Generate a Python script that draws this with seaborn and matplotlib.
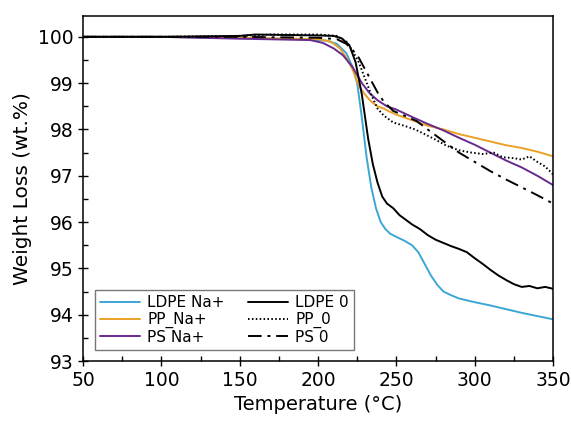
import numpy as np
import pandas as pd
import seaborn as sns
import matplotlib.pyplot as plt
from matplotlib.ticker import MultipleLocator

sns.set_style('ticks', {'text.color': 'black', 'axes.labelcolor': 'black', 'xtick.color': 'black',
                        'ytick.color': 'black', 'axes.edgecolor': 'black'})
plt.rcParams['font.family'] = ['DejaVu Sans']

# LDPE Na+
t_ldpe_na = [50, 100, 150, 190, 205, 212, 218, 222, 225, 228, 231, 234, 237, 240, 243, 246, 250, 255,
             260, 264, 268, 272, 276, 280, 285, 290, 300, 310, 320, 330, 340, 350]
w_ldpe_na = [100.0, 100.0, 99.97, 99.95, 99.92, 99.85, 99.65, 99.35, 99.0, 98.25, 97.4, 96.75, 96.3, 96.0,
             95.85, 95.75, 95.68, 95.6, 95.5, 95.35, 95.1, 94.85, 94.65, 94.5, 94.42, 94.35, 94.27, 94.2,
             94.12, 94.04, 93.97, 93.9]
# LDPE 0
t_ldpe_0 = [50, 100, 150, 160, 200, 210, 215, 220, 224, 228, 232, 235, 238, 241, 244, 248, 252, 256, 260,
            265, 270, 275, 280, 285, 290, 295, 300, 305, 310, 315, 320, 325, 330, 335, 340, 345, 350]
w_ldpe_0 = [100.0, 100.0, 100.02, 100.05, 100.03, 100.02, 99.97, 99.82, 99.45, 98.75, 97.8, 97.25, 96.85,
            96.55, 96.4, 96.3, 96.15, 96.05, 95.95, 95.85, 95.72, 95.62, 95.55, 95.48, 95.42, 95.35, 95.22,
            95.1, 94.97, 94.85, 94.75, 94.66, 94.6, 94.62, 94.57, 94.6, 94.56]
# PP Na+
t_pp_na = [50, 100, 150, 200, 208, 214, 218, 222, 226, 230, 234, 238, 242, 246, 250, 260, 270, 280, 290,
           300, 310, 320, 330, 340, 350]
w_pp_na = [100.0, 100.0, 99.98, 99.95, 99.9, 99.75, 99.55, 99.3, 98.95, 98.75, 98.6, 98.5, 98.45, 98.38,
           98.32, 98.2, 98.08, 98.0, 97.9, 97.82, 97.74, 97.66, 97.6, 97.52, 97.42]
# PP 0
t_pp_0 = [50, 100, 150, 170, 200, 212, 218, 222, 226, 230, 234, 238, 242, 248, 255, 262, 268, 275, 282,
          290, 298, 305, 312, 318, 325, 330, 335, 340, 345, 350]
w_pp_0 = [100.0, 100.0, 100.02, 100.05, 100.05, 100.02, 99.9, 99.7, 99.45, 99.1, 98.75, 98.45, 98.3,
          98.15, 98.08, 98.0, 97.9, 97.78, 97.65, 97.55, 97.5, 97.47, 97.5, 97.4, 97.38, 97.35, 97.42,
          97.3, 97.2, 97.03]
# PS Na+
t_ps_na = [50, 100, 150, 195, 203, 210, 216, 222, 228, 233, 238, 244, 250, 260, 270, 280, 290, 300, 310,
           320, 330, 340, 350]
w_ps_na = [100.0, 100.0, 99.96, 99.93, 99.87, 99.75, 99.6, 99.35, 99.0, 98.78, 98.63, 98.5, 98.43, 98.27,
           98.12, 97.98, 97.82, 97.67, 97.5, 97.33, 97.18, 97.0, 96.8]
# PS 0
t_ps_0 = [50, 100, 150, 200, 212, 218, 222, 226, 230, 234, 238, 242, 248, 255, 263, 270, 280, 290, 300,
          310, 320, 330, 340, 350]
w_ps_0 = [100.0, 100.0, 100.0, 99.98, 99.95, 99.85, 99.72, 99.55, 99.3, 99.05, 98.8, 98.6, 98.4, 98.3,
          98.18, 98.0, 97.75, 97.5, 97.3, 97.1, 96.92, 96.75, 96.58, 96.4]

series = [
    ('LDPE Na+', t_ldpe_na, w_ldpe_na, '#3ca6d4', None),
    ('PP_Na+', t_pp_na, w_pp_na, '#e9a126', None),
    ('PS Na+', t_ps_na, w_ps_na, '#672a8e', None),
    ('LDPE 0', t_ldpe_0, w_ldpe_0, 'black', None),
    ('PP_0', t_pp_0, w_pp_0, 'black', (0.8, 1.2)),
    ('PS 0', t_ps_0, w_ps_0, 'black', (7, 3, 1.5, 3)),
]

fig = plt.figure(figsize=(5.71, 4.21), dpi=100)
ax = fig.add_axes([0.1454, 0.1425, 0.8231, 0.8195])

for name, t, w, c, dash in series:
    df = pd.DataFrame({'T': t, 'W': w})
    line = sns.lineplot(data=df, x='T', y='W', color=c, linewidth=1.4, label=name, ax=ax).lines[-1]
    if dash is not None:
        line.set_dashes(dash)

ax.set_xlim(50, 350)
ax.set_ylim(93, 100.45)
ax.xaxis.set_major_locator(MultipleLocator(50))
ax.xaxis.set_minor_locator(MultipleLocator(25))
ax.yaxis.set_major_locator(MultipleLocator(1))
ax.yaxis.set_minor_locator(MultipleLocator(0.5))
ax.tick_params(which='major', direction='inout', length=7, labelsize=13.5, width=1)
ax.tick_params(which='minor', direction='in', length=3.5, width=1)
for s in ax.spines.values():
    s.set_linewidth(1.1)

ax.set_xlabel('Temperature (°C)', fontsize=14)
ax.set_ylabel('Weight Loss (wt.%)', fontsize=14.5)

ax.legend(ncol=2, loc='lower left', bbox_to_anchor=(0.025, 0.032), borderaxespad=0, fontsize=11,
          frameon=True, fancybox=False, edgecolor='#555555', handlelength=2.6, columnspacing=1.5,
          labelspacing=0.1, borderpad=0.35, handletextpad=0.5)

fig.savefig('out.png', dpi=100)
